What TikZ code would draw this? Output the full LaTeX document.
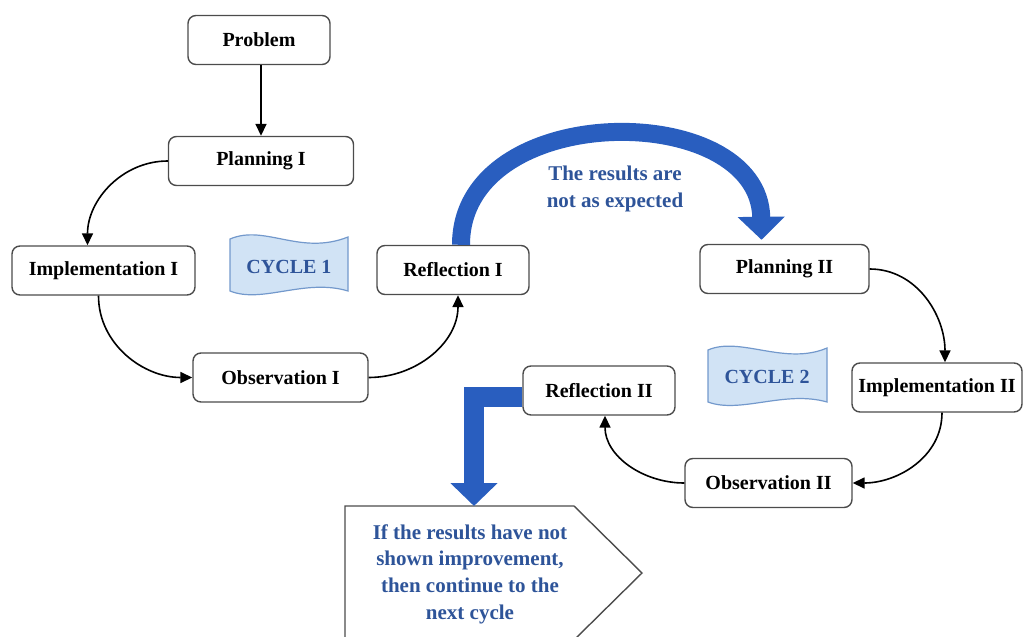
\documentclass[tikz,border=0pt]{standalone}
\usepackage{fontspec}
\setmainfont{Liberation Serif}
\usetikzlibrary{arrows.meta}

\tikzset{
  stage/.style={draw=kGrey,line width=0.7pt,rounded corners=4pt,fill=white,
    minimum height=24.5pt,inner sep=2pt,font=\bfseries},
  link/.style={line width=0.8pt,-{Triangle[length=6pt,width=5.5pt]}},
  bigarrow/.style={draw=kBlue,line width=9pt,-{Triangle[length=11.5pt,width=23pt]}},
  banner/.style={draw=kFlagLine,fill=kFlag,line width=0.6pt},
  bluetext/.style={text=kText,align=center,
    font=\bfseries\fontsize{10.5}{13.3}\selectfont}
}

\begin{document}
\begin{tikzpicture}[x=0.5pt,y=-0.5pt]
  % colors
  \definecolor{kGrey}{rgb}{0.30,0.30,0.30}
  \definecolor{kBlue}{rgb}{0.16,0.37,0.75}
  \definecolor{kText}{rgb}{0.18,0.33,0.60}
  \definecolor{kFlag}{rgb}{0.82,0.89,0.96}
  \definecolor{kFlagLine}{rgb}{0.45,0.60,0.80}
  \useasboundingbox (0,0) rectangle (1024,637);

  % stages
  \foreach \n/\x/\y/\w/\t in {pr/259/40/71pt/Problem,
      p1/261/161/92.5pt/Planning I, i1/103.5/270.5/91.5pt/Implementation I,
      o1/280.5/377.5/87.5pt/Observation I, r1/453/270/76pt/Reflection I,
      p2/784.5/269/84.5pt/Planning II, i2/937/387.5/85pt/Implementation II,
      o2/768.5/483/83.5pt/Observation II, r2/599/390.5/76pt/Reflection II} {
    \node[stage,minimum width=\w] (\n) at (\x,\y) {\t};
  };

  % cycle banners
  \draw[banner] (230,239) .. controls (265,224) and (300,256) .. (348,237)
    -- (348,291) .. controls (305,278) and (262,304) .. (230,291) -- cycle;
  \node[bluetext,font=\bfseries] (c1) at (289,267) {CYCLE 1};
  \draw[banner] (708,350) .. controls (740,336) and (785,366) .. (827,348)
    -- (827,402) .. controls (785,390) and (740,414) .. (708,402) -- cycle;
  \node[bluetext,font=\bfseries] (c2) at (767,377) {CYCLE 2};

  % cycle 1
  \draw[link] ([xshift=1pt]pr.south) -- (p1);
  \draw[link] (p1.west) to[out=180,in=90] ([xshift=-8pt]i1.north);
  \draw[link] ([xshift=-2.5pt]i1.south) to[out=-90,in=180] (o1.west);
  \draw[link] (o1.east) to[out=0,in=-90] ([xshift=2.5pt]r1.south);

  % cycle 2
  \draw[link] (p2.east) to[out=0,in=90] ([xshift=4pt]i2.north);
  \draw[link] ([xshift=2.5pt]i2.south) to[out=-90,in=0] (o2.east);
  \draw[link] (o2.west) to[out=180,in=-90] ([xshift=3pt]r2.south);

  % next cycle
  \draw[kGrey,line width=0.7pt,fill=white] (345,506) -- (574,506) -- (642,573)
    -- (574,640) -- (345,640) -- cycle;
  \coordinate (notetop) at (474,506);
  \node[bluetext] (note) at (470,574) {If the results have not\\shown improvement,\\then continue to the\\next cycle};

  % blue arrows
  \draw[bigarrow] ([xshift=4pt]r1.north) .. controls (461,99) and (760,99)
    .. ([xshift=-11.5pt,yshift=2pt]p2.north);
  \node[bluetext] (expect) at (615,189) {The results are\\not as expected};
  \draw[bigarrow,line width=10pt] ([yshift=-3pt]r2.west) -| (notetop);
\end{tikzpicture}
\end{document}
